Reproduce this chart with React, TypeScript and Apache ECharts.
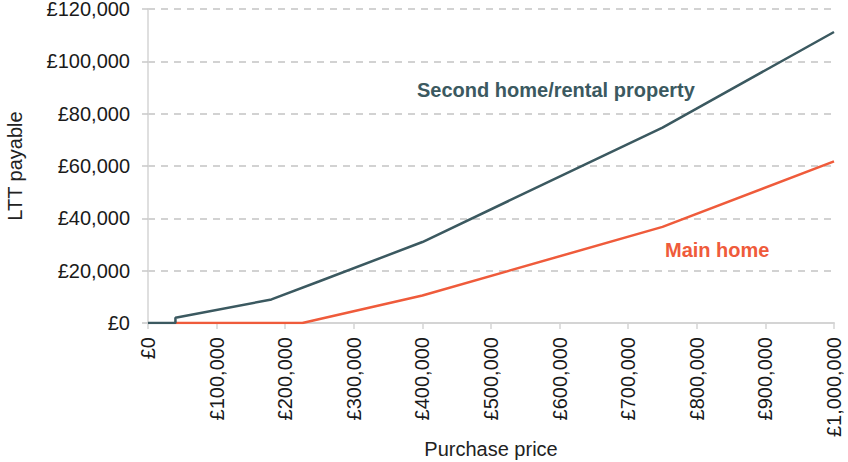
import React, { useEffect, useRef } from "react";
import * as echarts from "echarts";

const secondHomePrices = [0, 40000, 40000, 180000, 250000, 400000, 750000, 1000000];
const secondHomeTax = [0, 0, 2000, 9000, 15950, 30950, 74700, 111200];
const mainHomePrices = [40000, 225000, 400000, 750000, 1000000];
const mainHomeTax = [0, 0, 10500, 36750, 61750];

const DARK = "#3b5960";
const ORANGE = "#ef5b3b";
const FONT = "'Liberation Sans', Arial, sans-serif";

const fmt = (v: number) => "£" + Math.round(v).toLocaleString("en-GB");

export default function App() {
  const ref = useRef<HTMLDivElement>(null);
  useEffect(() => {
    if (!ref.current) return;
    const chart = echarts.init(ref.current, undefined, { renderer: "svg" });
    chart.setOption({
      animation: false,
      backgroundColor: "#ffffff",
      textStyle: { fontFamily: FONT },
      grid: {
        left: 148,
        right: 14,
        top: 9,
        bottom: 139,
        containLabel: false,
        outerBoundsMode: "none",
      },
      xAxis: {
        type: "value",
        min: 0,
        max: 1000000,
        interval: 100000,
        axisLine: { show: true, lineStyle: { color: "#d4d4d4", width: 2 } },
        axisTick: { show: true, length: 6, lineStyle: { color: "#d4d4d4", width: 1.5 } },
        splitLine: { show: false },
        axisLabel: {
          rotate: 90,
          margin: 14,
          fontSize: 20,
          color: "#1a1a1a",
          fontFamily: FONT,
          formatter: (v: number) => fmt(v),
        },
      },
      yAxis: {
        type: "value",
        min: 0,
        max: 120000,
        interval: 20000,
        name: "LTT payable",
        nameLocation: "middle",
        nameGap: 123,
        nameRotate: 90,
        nameTextStyle: { fontSize: 20, color: "#222", fontFamily: FONT },
        axisLine: { show: true, lineStyle: { color: "#d4d4d4", width: 1.5 } },
        axisTick: { show: true, length: 6, lineStyle: { color: "#c8c8c8", width: 1.5 } },
        splitLine: { show: true, lineStyle: { color: "#c4c4c4", width: 1.5, type: [7, 6] } },
        axisLabel: {
          margin: 18,
          fontSize: 20,
          lineHeight: 17,
          color: "#1a1a1a",
          fontFamily: FONT,
          formatter: (v: number) => fmt(v),
        },
      },
      series: [
        {
          name: "Main home",
          type: "line",
          showSymbol: false,
          lineStyle: { color: ORANGE, width: 2.5 },
          data: mainHomePrices.map((p, i) => [p, mainHomeTax[i]]),
          z: 3,
        },
        {
          name: "Second home/rental property",
          type: "line",
          showSymbol: false,
          lineStyle: { color: DARK, width: 2.5 },
          data: secondHomePrices.map((p, i) => [p, secondHomeTax[i]]),
          z: 4,
        },
      ],
      graphic: [
        {
          type: "text",
          x: 491,
          y: 449,
          style: {
            text: "Purchase price",
            fill: "#222",
            font: `20px ${FONT}`,
            textAlign: "center",
            textVerticalAlign: "middle",
          },
        },
        {
          type: "text",
          left: 417,
          top: 80,
          style: {
            text: "Second home/rental property",
            fill: DARK,
            font: `bold 20px ${FONT}`,
          },
        },
        {
          type: "text",
          left: 665,
          top: 240,
          style: {
            text: "Main home",
            fill: ORANGE,
            font: `bold 20px ${FONT}`,
          },
        },
      ],
    });
    return () => chart.dispose();
  }, []);
  return (
    <div
      ref={ref}
      style={{ position: "fixed", left: 0, top: 0, width: 848, height: 462, background: "#fff" }}
    />
  );
}
